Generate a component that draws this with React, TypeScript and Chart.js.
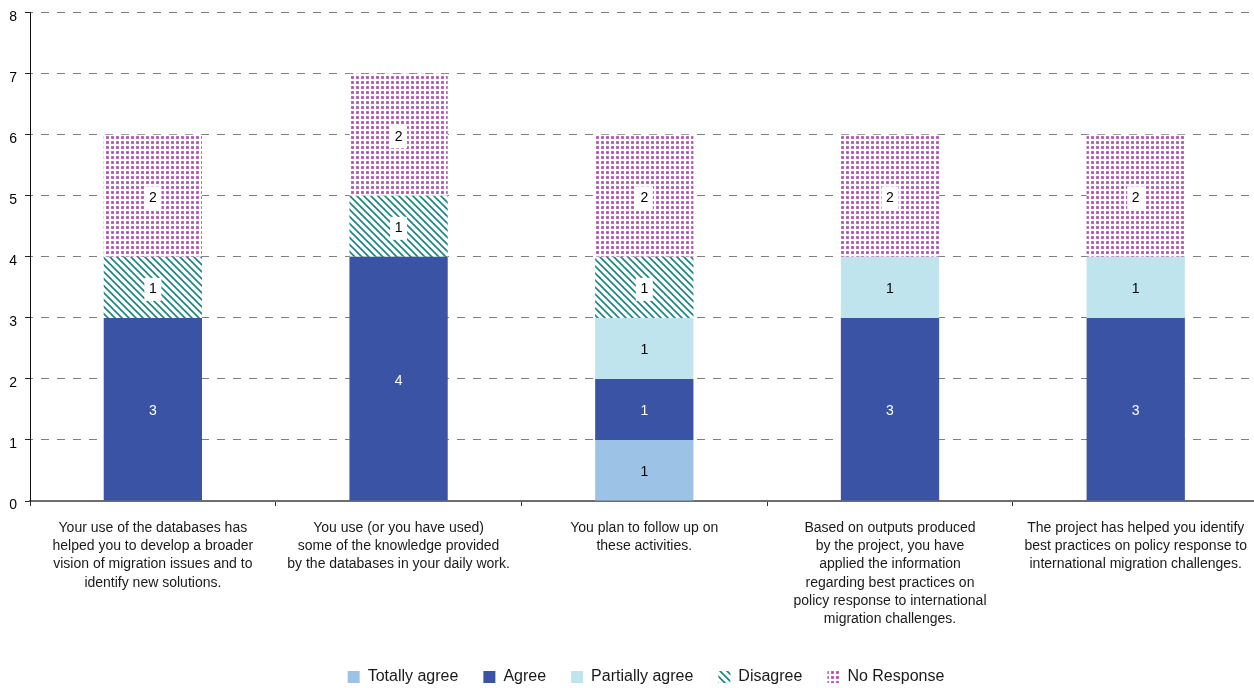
import React, { useEffect, useRef } from "react";
import { Chart, registerables } from "chart.js";

Chart.register(...registerables);

const categories: string[][] = [
  ["Your use of the databases has", "helped you to develop a broader", "vision of migration issues and to", "identify new solutions."],
  ["You use (or you have used)", "some of the knowledge provided", "by the databases in your daily work."],
  ["You plan to follow up on", "these activities."],
  ["Based on outputs produced", "by the project, you have", "applied the information", "regarding best practices on", "policy response to international", "migration challenges."],
  ["The project has helped you identify", "best practices on policy response to", "international migration challenges."],
];

const seriesNames = ["Totally agree", "Agree", "Partially agree", "Disagree", "No Response"];
const totallyAgree = [0, 0, 1, 0, 0];
const agree = [3, 4, 1, 3, 3];
const partiallyAgree = [0, 0, 1, 1, 1];
const disagree = [1, 1, 1, 0, 0];
const noResponse = [2, 2, 2, 2, 2];
const yMin = 0;
const yMax = 8;
const yStep = 1;

const FONT = '"Liberation Sans", Arial, Helvetica, sans-serif';

function stripePattern(ctx: CanvasRenderingContext2D) {
  const s = 7;
  const c = document.createElement("canvas");
  c.width = s;
  c.height = s;
  const g = c.getContext("2d")!;
  g.fillStyle = "#ffffff";
  g.fillRect(0, 0, s, s);
  g.strokeStyle = "#16857f";
  g.lineWidth = 1.6;
  for (const k of [-s, 0, s]) {
    g.beginPath();
    g.moveTo(k - 1, -1);
    g.lineTo(k + s + 1, s + 1);
    g.stroke();
  }
  return ctx.createPattern(c, "repeat")!;
}

function dotPattern(ctx: CanvasRenderingContext2D) {
  const s = 5;
  const c = document.createElement("canvas");
  c.width = s;
  c.height = s;
  const g = c.getContext("2d")!;
  g.fillStyle = "#ffffff";
  g.fillRect(0, 0, s, s);
  g.fillStyle = "#c47ec4";
  g.fillRect(1, 1, 3, 3);
  g.fillStyle = "#b04fb1";
  g.fillRect(1.5, 1.5, 2, 2);
  return ctx.createPattern(c, "repeat")!;
}

const segLabels = {
  id: "segLabels",
  afterDatasetsDraw(chart: any) {
    const ctx = chart.ctx as CanvasRenderingContext2D;
    chart.data.datasets.forEach((ds: any, di: number) => {
      const meta = chart.getDatasetMeta(di);
      meta.data.forEach((el: any, i: number) => {
        const v = ds.data[i];
        if (!v) return;
        const x = el.x;
        const y = (el.y + el.base) / 2 + 2;
        ctx.save();
        ctx.font = `14px ${FONT}`;
        ctx.textAlign = "center";
        ctx.textBaseline = "middle";
        if (di >= 3) {
          ctx.fillStyle = "#ffffff";
          ctx.fillRect(x - 8.5, y - 11.5, 17, 23);
        }
        ctx.fillStyle = di === 1 ? "#ffffff" : "#000000";
        ctx.fillText(String(v), x, y);
        ctx.restore();
      });
    });
  },
};

const legendShift = {
  id: "legendShift",
  afterLayout(chart: any) {
    const l = chart.legend;
    if (l) {
      l.left += 16;
      l.right += 16;
      l.top += 7;
      l.bottom += 7;
    }
  },
};

export default function App() {
  const ref = useRef<HTMLCanvasElement | null>(null);

  useEffect(() => {
    document.body.style.margin = "0";
    document.body.style.overflow = "hidden";
    const canvas = ref.current!;
    const ctx = canvas.getContext("2d")!;
    const stripes = stripePattern(ctx);
    const dots = dotPattern(ctx);

    const chart = new Chart(canvas, {
      type: "bar",
      data: {
        labels: categories,
        datasets: [
          { label: seriesNames[0], data: totallyAgree, backgroundColor: "#9cc3e6" },
          { label: seriesNames[1], data: agree, backgroundColor: "#3a53a4" },
          { label: seriesNames[2], data: partiallyAgree, backgroundColor: "#bfe4ee" },
          { label: seriesNames[3], data: disagree, backgroundColor: stripes as any },
          { label: seriesNames[4], data: noResponse, backgroundColor: dots as any },
        ].map((d) => ({ ...d, borderWidth: 0, barPercentage: 0.4, categoryPercentage: 1 })),
      },
      options: {
        animation: false,
        responsive: false,
        devicePixelRatio: 1,
        layout: { padding: { top: 12.7, right: 0, left: 0, bottom: 0 } },
        plugins: {
          tooltip: { enabled: false },
          legend: {
            position: "bottom",
            labels: {
              boxWidth: 12,
              boxHeight: 12,
              padding: 25,
              color: "#1a1a1a",
              font: { family: FONT, size: 16 },
            },
          },
        },
        scales: {
          x: {
            stacked: true,
            offset: true,
            grid: {
              offset: true,
              drawOnChartArea: false,
              drawTicks: true,
              tickLength: 5,
              tickColor: "#333333",
            },
            border: { display: true, color: "#6e6e6e", width: 2 },
            ticks: {
              autoSkip: false,
              maxRotation: 0,
              minRotation: 0,
              padding: 13,
              color: "#1a1a1a",
              font: { family: FONT, size: 14, lineHeight: 1.3 },
            },
            afterFit: (s: any) => {
              s.height = 136;
            },
          },
          y: {
            stacked: true,
            min: yMin,
            max: yMax,
            grid: {
              color: "#808080",
              lineWidth: 1,
              tickColor: "#222222",
              tickLength: 5,
            },
            border: { display: true, color: "#111111", width: 1, dash: [8, 8], dashOffset: 6 },
            ticks: {
              stepSize: yStep,
              padding: 8,
              labelOffset: 4,
              color: "#000000",
              font: { family: FONT, size: 14, lineHeight: 0.6 },
            },
            afterFit: (s: any) => {
              s.width = 30;
            },
          },
        },
      },
      plugins: [segLabels, legendShift],
    });
    return () => chart.destroy();
  }, []);

  return <canvas ref={ref} width={1260} height={688} style={{ display: "block" }} />;
}
